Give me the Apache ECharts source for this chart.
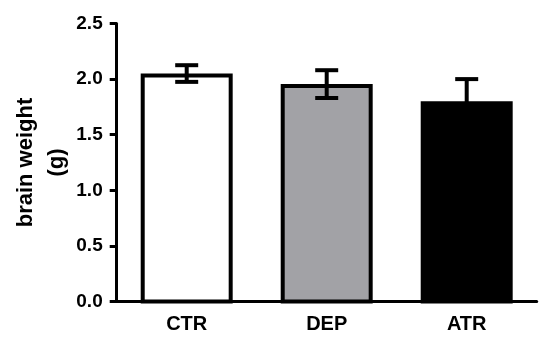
<!DOCTYPE html>
<html>
<head>
<meta charset="utf-8">
<script src="https://cdn.jsdelivr.net/npm/echarts@6/dist/echarts.min.js"></script>
<style>html,body{margin:0;padding:0;background:#fff}#c{width:550px;height:352px}</style>
</head>
<body>
<div id="c"></div>
<script>
var categories = ['CTR', 'DEP', 'ATR'];
var means = [2.05, 1.955, 1.80];
var errors = [0.075, 0.125, 0.20];
var barColors = ['#ffffff', '#a2a2a6', '#000000'];
var yTicks = [0, 0.5, 1.0, 1.5, 2.0, 2.5];

var chart = echarts.init(document.getElementById('c'), null, {renderer: 'canvas'});
var FONT = '"Liberation Sans", Arial, Helvetica, sans-serif';

var barData = categories.map(function (c, i) { return [i, means[i]]; });
var errData = categories.map(function (c, i) { return [i, means[i], errors[i]]; });

chart.setOption({
  animation: false,
  backgroundColor: '#ffffff',
  grid: {left: 116.7, right: 13.3, top: 23.5, bottom: 50.5, containLabel: false, outerBoundsMode: 'none'},
  xAxis: {
    type: 'category',
    data: categories,
    boundaryGap: true,
    axisLine: {lineStyle: {color: '#000', width: 3}},
    axisTick: {alignWithLabel: true, length: 7, lineStyle: {color: '#000', width: 3}},
    axisLabel: {color: '#000', fontFamily: FONT, fontWeight: 'bold', fontSize: 20, margin: 13}
  },
  yAxis: {
    type: 'value',
    min: yTicks[0],
    max: yTicks[yTicks.length - 1],
    interval: 0.5,
    name: 'brain weight\n(g)',
    nameLocation: 'middle',
    nameGap: 44,
    nameMoveOverlap: false,
    nameRotate: 90,
    nameTextStyle: {color: '#000', fontFamily: FONT, fontWeight: 'bold', fontSize: 22, lineHeight: 31},
    splitLine: {show: false},
    axisLine: {show: true, lineStyle: {color: '#000', width: 3}},
    axisTick: {show: true, length: 7, lineStyle: {color: '#000', width: 3}},
    axisLabel: {color: '#000', fontFamily: FONT, fontWeight: 'bold', fontSize: 19, margin: 14,
      formatter: function (v) { return v.toFixed(1); }}
  },
  series: [
    {
      type: 'custom',
      data: barData,
      z: 2,
      renderItem: function (params, api) {
        var i = api.value(0);
        var top = api.coord([i, api.value(1)]);
        var base = api.coord([i, 0]);
        var band = api.size([1, 0])[0];
        var outer = band * 0.657;
        var bw = 4;
        var x0 = top[0] - outer / 2 + bw / 2;
        var y0 = top[1] + bw / 2;
        return {
          type: 'rect',
          shape: {x: x0, y: y0, width: outer - bw, height: base[1] - y0},
          style: {fill: barColors[i], stroke: '#000', lineWidth: bw}
        };
      }
    },
    {
      type: 'custom',
      data: errData,
      z: 3,
      renderItem: function (params, api) {
        var i = api.value(0);
        var m = api.value(1), e = api.value(2);
        var hi = api.coord([i, m + e]);
        var lo = api.coord([i, m - e]);
        var cx = hi[0];
        var half = 11.5;
        var st = {stroke: '#000', lineWidth: 4};
        return {
          type: 'group',
          children: [
            {type: 'line', shape: {x1: cx, y1: hi[1], x2: cx, y2: lo[1]}, style: st},
            {type: 'line', shape: {x1: cx - half, y1: hi[1], x2: cx + half, y2: hi[1]}, style: st},
            {type: 'line', shape: {x1: cx - half, y1: lo[1], x2: cx + half, y2: lo[1]}, style: st}
          ]
        };
      }
    }
  ]
});
</script>
</body>
</html>
